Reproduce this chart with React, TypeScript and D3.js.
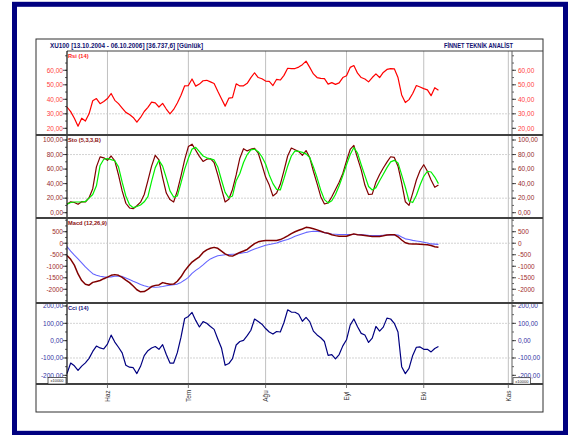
import React from "react";
import * as d3 from "d3";

// x ekseni: işlem günü sırası (0 = ~16.05.2006, 101 = 06.10.2006)
const monthLabels = ["Haz", "Tem", "Ağu", "Eyl", "Eki", "Kas"];
const monthStarts = [11, 33, 54, 76, 97, 120];

const rsi = [
  34.7, 31.5, 27, 21.5, 27, 25, 30, 39, 40.5, 37,
  38.5, 40.5, 44, 39.3, 37, 34, 31, 29.5, 27.5, 24.2,
  27.5, 31.6, 34.5, 38.1, 37.5, 34.7, 37.2, 33.3, 30, 33,
  37.5, 42.8, 49.3, 49.5, 54, 49.1, 50.5, 52.8, 53.1, 52,
  50.9, 45.5, 40.4, 35.3, 40.8, 41.2, 50.7, 49.2, 49.3, 51,
  54.9, 58.3, 55, 54.2, 52.6, 52.3, 49.5, 53.8, 53.3, 56.5,
  61.4, 61.2, 61.2, 62.2, 63.9, 66.3, 62, 57.5, 55, 54.4,
  54.2, 50.5, 51.5, 50.3, 51.3, 55, 56.2, 62, 63.3, 58,
  55, 54, 52, 55, 57.5, 55, 58.5, 60.6, 61.2, 61,
  55, 43, 37.8, 39.8, 44, 49.5, 48.5, 47.4, 46.5, 42.5,
  48, 46.3,
];

const stoK = [
  11.5, 15, 14, 11.5, 15.2, 14.7, 20.7, 33, 63, 76.8,
  75.5, 72, 78, 71.3, 52, 30, 13, 6.5, 5.5, 9.5,
  14.5, 25, 44, 64, 79, 72.6, 48.3, 27, 18, 14.7,
  30, 50.6, 73, 91, 94.3, 86, 77.5, 70.5, 73.6, 74.5,
  69, 52, 33, 14.7, 18.5, 32, 52, 75, 88, 85,
  87.4, 88.5, 82, 66, 49, 38, 23, 27, 39, 58,
  78, 89, 86.5, 84, 79, 85.5, 75.9, 57, 40, 22,
  12, 13.5, 22, 32, 42, 54, 71.3, 87, 92.5, 75,
  59, 38, 25, 25.5, 42, 52.5, 61.5, 69.5, 77, 76,
  64, 41, 15, 10, 27, 45, 58, 66, 57, 45,
  35, 38,
];

const stoD = [
  11.5, 14, 14.7, 14.7, 14.7, 15.5, 20, 25, 37, 65,
  73.5, 74.5, 73, 71.5, 63, 42, 23, 11, 7, 8.5,
  10.5, 15, 22, 43, 62, 72, 64, 48, 30, 21.5,
  23, 41, 60, 75, 87.5, 90, 84, 78, 75.5, 74,
  72.6, 63, 45, 28, 20.5, 23, 44, 54, 69, 80,
  86.5, 87.4, 84, 77, 67, 52, 40, 32, 31.3, 47,
  64, 78, 85, 84.5, 83, 81, 76, 63, 48, 31,
  18, 13.5, 16.5, 25, 37, 51, 66, 80, 89.7, 82,
  66, 51, 36, 31.3, 34.5, 44, 53, 62, 69.9, 72,
  68.5, 52, 35, 16, 14, 24, 38, 50, 57, 56,
  49, 40,
];

const macd = [
  -536, -700, -950, -1334, -1620, -1780, -1820, -1700, -1660, -1620,
  -1540, -1470, -1395, -1363, -1395, -1480, -1600, -1710, -1860, -2020,
  -2110, -2100, -2000, -1880, -1830, -1812, -1710, -1750, -1780, -1772,
  -1650, -1460, -1200, -1000, -820, -700, -590, -400, -290, -220,
  -180, -220, -340, -460, -540, -560, -480, -400, -340, -270,
  -140, -20, 60, 100, 116, 116, 116, 120, 159, 230,
  320, 420, 500, 560, 620, 690, 670, 630, 580, 520,
  460, 430, 365, 330, 304, 304, 304, 360, 406, 370,
  355, 335, 310, 290, 290, 290, 320, 360, 372, 370,
  280, 140, 20, -20, -29, -29, -40, -57, -68, -100,
  -150, -170,
];

const macdSignal = [
  -145, -340, -520, -680, -850, -1030, -1180, -1320, -1390, -1436,
  -1460, -1479, -1460, -1436, -1436, -1440, -1510, -1580, -1650, -1715,
  -1790, -1850, -1890, -1900, -1912, -1900, -1880, -1845, -1820, -1800,
  -1775, -1700, -1600, -1480, -1310, -1180, -1070, -940, -800, -680,
  -610, -545, -520, -500, -490, -478, -466, -445, -415, -390,
  -320, -255, -200, -140, -85, -55, -20, 12, 70, 120,
  165, 230, 300, 360, 415, 470, 500, 520, 515, 505,
  460, 420, 400, 390, 380, 377, 377, 377, 377, 377,
  375, 360, 340, 333, 333, 333, 345, 355, 362, 362,
  355, 270, 190, 160, 125, 100, 75, 45, 10, -30,
  -40, -50,
];

const cci = [
  -190, -129, -145, -172, -147, -128, -102, -62, -31, -42,
  -48, -20, 32, -8, -38, -70, -142, -153, -156, -190,
  -148, -86, -58, -42, -34, -50, -23, -80, -129, -129,
  -69, 20, 128, 140, 163, 117, 79, 110, 100, 82,
  65, 10, -42, -142, -132, -104, -25, -5, 2, 29,
  60, 125, 110, 95, 70, 50, 38, 53, 50, 105,
  178, 165, 164, 152, 112, 134, 110, 55, 33, 17,
  -5, -85, -81, -105, -80, -30, 5, 90, 125, 80,
  42, 33, -10, 15, 82, 55, 78, 130, 125, 100,
  50, -150, -190, -160, -85, -38, -36, -50, -50, -65,
  -45, -34,
];

const rsiTicks = [20, 30, 40, 50, 60];
const stoTicks = [0, 20, 40, 60, 80, 100];
const macdTicks = [-2000, -1500, -1000, -500, 0, 500];
const cciTicks = [-200, -100, 0, 100, 200];

const FONT = "'Liberation Sans', Arial, sans-serif";
const plotL = 67;
const plotR = 512;
const x = d3.scaleLinear().domain([0, 121]).range([plotL, plotR]);

const comma = (v: number) => v.toFixed(2).replace(".", ",");

type Series = { values: number[]; color: string; width: number };
type Panel = {
  title: string;
  titleColor: string;
  top: number;
  bottom: number;
  domain: [number, number];
  ticks: number[];
  minorStep: number;
  fmt: (v: number) => string;
  labelColor: string;
  grid: number[];
  series: Series[];
};

const panels: Panel[] = [
  {
    title: "Rsi (14)", titleColor: "#ff1a1a", top: 51, bottom: 135,
    domain: [15.4, 73.3], ticks: rsiTicks, minorStep: 5, fmt: comma,
    labelColor: "#ff4040", grid: [30],
    series: [{ values: rsi, color: "#ff0000", width: 1.2 }],
  },
  {
    title: "Sto (5,3,3,B)", titleColor: "#8b1010", top: 135, bottom: 218,
    domain: [-7.3, 106.9], ticks: stoTicks, minorStep: 10, fmt: comma,
    labelColor: "#962a2a", grid: [20, 80],
    series: [
      { values: stoK, color: "#800000", width: 1.2 },
      { values: stoD, color: "#00f000", width: 1.2 },
    ],
  },
  {
    title: "Macd (12,26,9)", titleColor: "#8b1010", top: 218, bottom: 303,
    domain: [-2595, 1095], ticks: macdTicks, minorStep: 250, fmt: (v) => String(v),
    labelColor: "#a02c2c", grid: [0],
    series: [
      { values: macdSignal, color: "#6464ff", width: 1.1 },
      { values: macd, color: "#800000", width: 1.5 },
    ],
  },
  {
    title: "Cci (14)", titleColor: "#101080", top: 303, bottom: 384,
    domain: [-250, 217.3], ticks: cciTicks, minorStep: 50, fmt: comma,
    labelColor: "#3434a4", grid: [-100, 100],
    series: [{ values: cci, color: "#000080", width: 1.2 }],
  },
];

function PanelView({ p }: { p: Panel }) {
  const y = d3.scaleLinear().domain(p.domain).range([p.bottom, p.top]);
  const minor = d3
    .range(Math.ceil(p.domain[0] / p.minorStep) * p.minorStep, p.domain[1], p.minorStep)
    .filter((v) => y(v) > p.top + 2 && y(v) < p.bottom - 2);
  const line = d3
    .line<number>()
    .x((_, i) => x(i))
    .y((d) => y(d));
  return (
    <g>
      {p.grid.map((g) => (
        <line key={"g" + g} x1={plotL} x2={plotR} y1={y(g)} y2={y(g)}
          stroke="#c8c8c8" strokeWidth={0.8} strokeDasharray="2,1" />
      ))}
      {p.series.map((s, i) => (
        <path key={i} d={line(s.values) || ""} fill="none" stroke={s.color}
          strokeWidth={s.width} strokeLinejoin="round" />
      ))}
      {minor.map((v) => (
        <g key={"m" + v} stroke="#222" strokeWidth={0.7}>
          <line x1={plotL - 2} x2={plotL} y1={y(v)} y2={y(v)} />
          <line x1={plotR} x2={plotR + 2} y1={y(v)} y2={y(v)} />
        </g>
      ))}
      {p.ticks.map((v) => (
        <g key={"t" + v}>
          <line x1={plotL - 4} x2={plotL} y1={y(v)} y2={y(v)} stroke="#222" strokeWidth={0.8} />
          <line x1={plotR} x2={plotR + 4} y1={y(v)} y2={y(v)} stroke="#222" strokeWidth={0.8} />
          <text x={plotL - 4} y={y(v) + 2.3} textAnchor="end" fontSize={6.5}
            fill={p.labelColor} fontFamily={FONT}>{p.fmt(v)}</text>
          <text x={plotR + 6} y={y(v) + 2.3} textAnchor="start" fontSize={6.5}
            fill={p.labelColor} fontFamily={FONT}>{p.fmt(v)}</text>
        </g>
      ))}
      <text x={plotL + 1} y={p.top + 7} fontSize={5.7} fontWeight="bold"
        fill={p.titleColor} fontFamily={FONT}>{p.title}</text>
    </g>
  );
}

export default function App() {
  const W = 571;
  const H = 435;
  const boxL = 36, boxR = 543, boxT = 39, boxB = 412;
  return (
    <div style={{ position: "absolute", left: 0, top: 0 }}>
      <svg width={W} height={H} style={{ display: "block" }}>
        <rect x={0} y={0} width={W} height={H} fill="#fff" />
        <rect x={14.5} y={4.3} width={551} height={429} fill="none" stroke="#000080" strokeWidth={5} />
        <rect x={boxL} y={boxT} width={boxR - boxL} height={boxB - boxT} fill="#fff" stroke="#303030" strokeWidth={1} />

        <text x={50} y={47.5} fontSize={7} fontWeight="bold" fill="#101070" fontFamily={FONT}
          textLength={153} lengthAdjust="spacingAndGlyphs">
          XU100  [13.10.2004 - 06.10.2006]  [36.737,6]  [Günlük]
        </text>
        <text x={513} y={47.5} fontSize={7} fontWeight="bold" fill="#101070" fontFamily={FONT}
          textAnchor="end" textLength={69} lengthAdjust="spacingAndGlyphs">
          FİNNET TEKNİK ANALİST
        </text>

        {monthStarts.map((m) => (
          <line key={"v" + m} x1={x(m)} x2={x(m)} y1={51} y2={384} stroke="#c0c0c0" strokeWidth={1} />
        ))}

        {panels.map((p) => (
          <PanelView key={p.title} p={p} />
        ))}

        <line x1={plotL} x2={boxR} y1={51} y2={51} stroke="#404040" strokeWidth={1.2} />
        <line x1={plotL} x2={plotL} y1={51} y2={384} stroke="#111" strokeWidth={1.2} />
        <line x1={plotR} x2={plotR} y1={51} y2={384} stroke="#606060" strokeWidth={1} />
        {[135, 218, 303, 384].map((s) => (
          <line key={"s" + s} x1={boxL} x2={boxR} y1={s} y2={s} stroke="#404040" strokeWidth={2} />
        ))}

        {monthStarts.map((m, i) => (
          <g key={"ml" + m}>
            <line x1={x(m)} x2={x(m)} y1={384} y2={388} stroke="#555" strokeWidth={0.8} />
            <text transform={`translate(${x(m) + 2.2},396) rotate(-90)`} textAnchor="middle"
              fontSize={6.4} fill="#333" fontFamily={FONT}>{monthLabels[i]}</text>
          </g>
        ))}

        <rect x={48} y={377.5} width={18} height={6.5} fill="#fff" stroke="#222" strokeWidth={0.7} />
        <text x={57} y={382.4} textAnchor="middle" fontSize={4} fill="#222" fontFamily={FONT}>x10000</text>
        <rect x={513} y={377.7} width={17.5} height={6.5} fill="#fff" stroke="#222" strokeWidth={0.7} />
        <text x={521.8} y={382.6} textAnchor="middle" fontSize={4} fill="#222" fontFamily={FONT}>x10000</text>
      </svg>
    </div>
  );
}
